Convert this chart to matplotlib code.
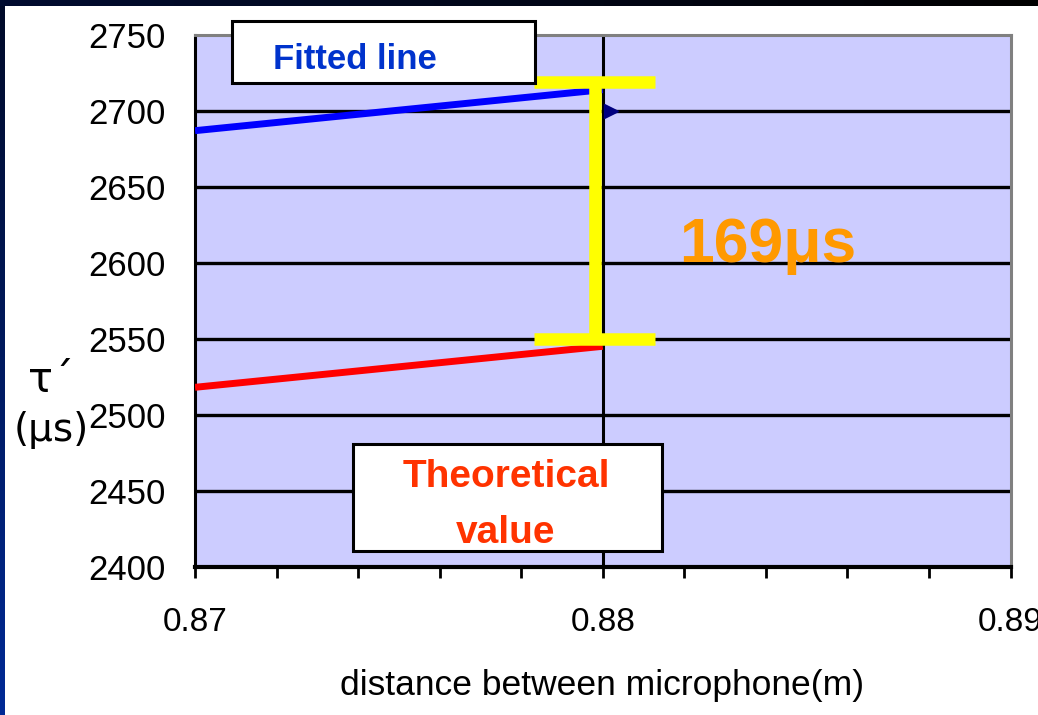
import numpy as np
import matplotlib
matplotlib.use('Agg')
import matplotlib.pyplot as plt
from matplotlib.patches import Rectangle
from matplotlib.ticker import MultipleLocator

# values
x_fit = [0.87, 0.88]
tau_fitted = [2687, 2714]
tau_theory = [2518, 2545]
marker_x = [0.8802]
marker_y = [2700]
gap_x = 0.8798
gap_top = 2719
gap_bottom = 2550
gap_half = 0.00148
gap_label = '169μs'

x_ticks = [0.87, 0.88, 0.89]
x_tick_labels = ['0.87', '0.88', '0.89']
y_ticks = [2400, 2450, 2500, 2550, 2600, 2650, 2700, 2750]

plt.rcParams['font.family'] = ['Liberation Sans', 'DejaVu Sans']

W, H = 1038, 715
fig = plt.figure(figsize=(W / 100, H / 100), dpi=100)
fig.patch.set_facecolor('white')

# dark slide frame (left + top strips)
grad = np.linspace(0, 1, 256).reshape(-1, 1)
left = fig.add_axes([0, 0, 5 / W, 1])
left.imshow(grad, aspect='auto', extent=[0, 1, 0, 1],
            cmap=matplotlib.colors.LinearSegmentedColormap.from_list('l', ['#000a28', '#002a96']))
left.axis('off')
top = fig.add_axes([0, 1 - 6 / H, 1, 6 / H])
top.imshow(grad.T, aspect='auto', extent=[0, 1, 0, 1],
           cmap=matplotlib.colors.LinearSegmentedColormap.from_list('t', ['#000c30', '#000000']))
top.axis('off')

ax = fig.add_axes([195 / W, (H - 566.5) / H, 815.5 / W, 531.5 / H])
ax.set_facecolor('#CCCCFF')
ax.set_xlim(0.87, 0.89)
ax.set_ylim(2400, 2750)

# grid lines
for y in y_ticks[1:-1]:
    ax.axhline(y, color='black', lw=2.4, zorder=1)
for x in x_ticks[1:-1]:
    ax.axvline(x, color='black', lw=2.2, zorder=1)

for s in ['left', 'bottom']:
    ax.spines[s].set_color('black')
ax.spines['left'].set_linewidth(2.2)
ax.spines['bottom'].set_linewidth(3)
for s in ['top', 'right']:
    ax.spines[s].set_color('#808080')
    ax.spines[s].set_linewidth(2.2)

ax.set_xticks(x_ticks)
ax.set_xticklabels(x_tick_labels)
ax.xaxis.set_minor_locator(MultipleLocator(0.002))
ax.set_yticks(y_ticks)
ax.set_yticklabels([str(v) for v in y_ticks])
ax.tick_params(axis='x', which='both', direction='out', length=8, width=2,
               labelsize=24, pad=21)
ax.tick_params(axis='y', length=0, labelsize=25, pad=21)

# lines
ax.plot(x_fit, tau_fitted, color='#0000FF', lw=5, solid_capstyle='butt', zorder=3)
ax.plot(x_fit, tau_theory, color='#FF0000', lw=5, solid_capstyle='butt', zorder=3)
ax.plot(marker_x, marker_y, marker='>', color='#000080', ms=10, ls='none', zorder=2)

# yellow gap bracket
ax.plot([gap_x, gap_x], [gap_bottom, gap_top], color='#FFFF00', lw=9,
        solid_capstyle='butt', zorder=4)
ax.hlines([gap_top, gap_bottom], gap_x - gap_half, gap_x + gap_half,
          color='#FFFF00', lw=9, zorder=4)
ax.text(0.702, 0.573, gap_label, transform=ax.transAxes, ha='center', va='baseline',
        fontsize=45, fontweight='bold', color='#FF9900', zorder=5)

# label boxes
ax.add_patch(Rectangle((0.0454, 0.9097), 0.3715, 0.1166, transform=ax.transAxes,
                       facecolor='white', edgecolor='black', lw=2.2, clip_on=False, zorder=6))
ax.text(0.1956, 0.936, 'Fitted line', transform=ax.transAxes, ha='center', va='baseline',
        fontsize=25, fontweight='bold', color='#0033CC', zorder=7)
ax.add_patch(Rectangle((0.1937, 0.0292), 0.379, 0.2013, transform=ax.transAxes,
                       facecolor='white', edgecolor='black', lw=2.2, clip_on=False, zorder=6))
ax.text(0.3814, 0.1496, 'Theoretical', transform=ax.transAxes, ha='center', va='baseline',
        fontsize=28, fontweight='bold', color='#FF3300', zorder=7)
ax.text(0.3814, 0.0442, 'value', transform=ax.transAxes, ha='center', va='baseline',
        fontsize=28, fontweight='bold', color='#FF3300', zorder=7)

# axis titles
fig.text(602 / W, 1 - 695 / H, 'distance between microphone(m)', ha='center',
         va='baseline', fontsize=25.5)
fig.text(51 / W, 1 - 380 / H, 'τ´', ha='center', va='center', fontsize=30,
         family='DejaVu Sans')
fig.text(51.5 / W, 1 - 430 / H, '(μs)', ha='center', va='center', fontsize=28,
         family='DejaVu Sans')

fig.savefig('out.png', dpi=100)
